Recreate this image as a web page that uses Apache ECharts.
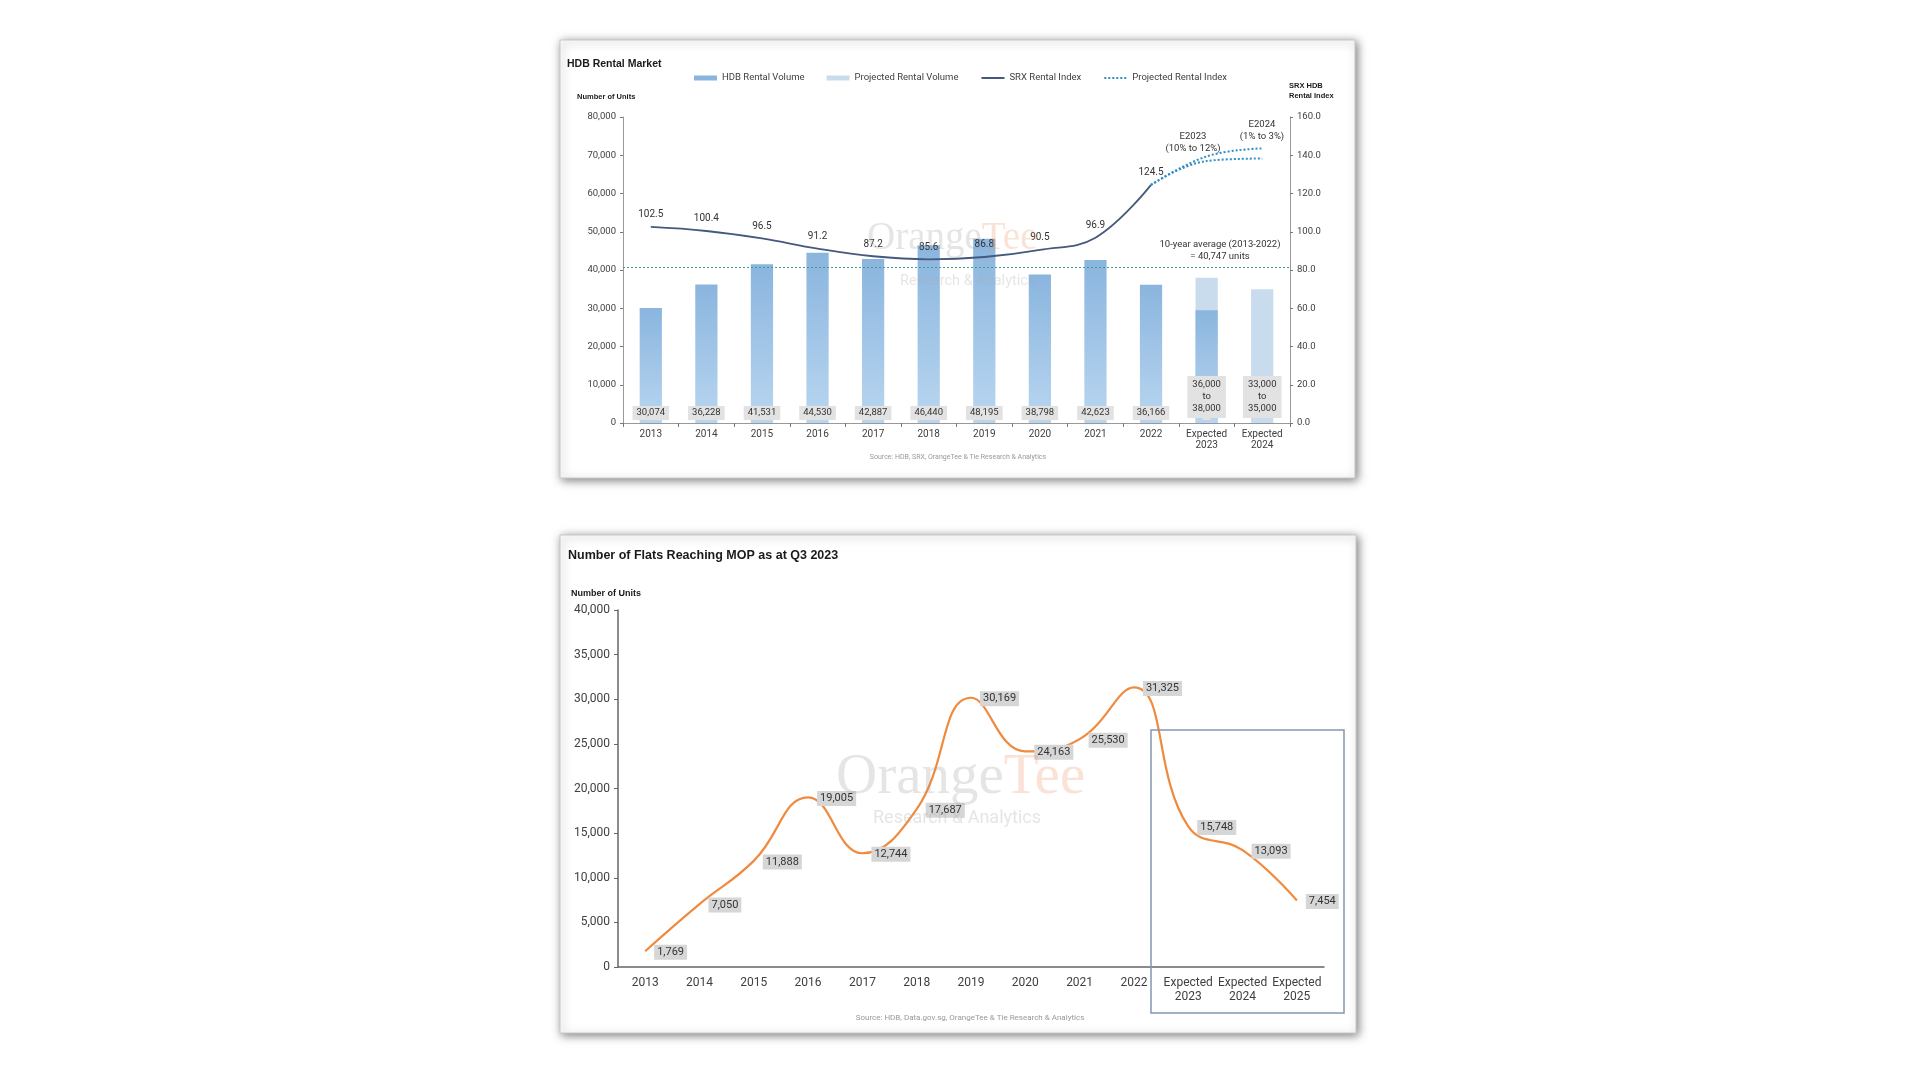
<!DOCTYPE html>
<html>
<head>
<meta charset="utf-8">
<script src="https://cdn.jsdelivr.net/npm/echarts@6/dist/echarts.min.js"></script>
<style>
html,body{margin:0;padding:0;background:#fff;}
#c{width:1920px;height:1080px;}
</style>
</head>
<body>
<div id="c"></div>
<script>
// ---------- Chart 1: HDB Rental Market ----------
var rentalCategories = ['2013','2014','2015','2016','2017','2018','2019','2020','2021','2022','Expected\n2023','Expected\n2024'];
var rentalVolume = [30074, 36228, 41531, 44530, 42887, 46440, 48195, 38798, 42623, 36166, 29500, null];
var projectedVolume = [null, null, null, null, null, null, null, null, null, null, 38000, 35000];
var projectedVolumeLabels = ['', '', '', '', '', '', '', '', '', '', '36,000\nto\n38,000', '33,000\nto\n35,000'];
var srxIndex = [102.5, 100.4, 96.5, 91.2, 87.2, 85.6, 86.8, 90.5, 96.9, 124.5, null, null];
var projIndexHigh = [null, null, null, null, null, null, null, null, null, 124.5, 139.4, 143.6];
var projIndexLow = [null, null, null, null, null, null, null, null, null, 124.5, 137.0, 138.3];
var avgVolume = 40747;
var volumeTicks = [0, 80000, 10000];
var indexTicks = [0, 160, 20];

// ---------- Chart 2: Flats reaching MOP ----------
var mopCategories = ['2013','2014','2015','2016','2017','2018','2019','2020','2021','2022','Expected\n2023','Expected\n2024','Expected\n2025'];
var mopUnits = [1769, 7050, 11888, 19005, 12744, 17687, 30169, 24163, 25530, 31325, 15748, 13093, 7454];
var mopTicks = [0, 40000, 5000];

var FONT = 'Roboto';
var fmt = function (v) { return Number(v).toLocaleString('en-US'); };

var chart = echarts.init(document.getElementById('c'), null, {renderer: 'canvas'});

var barGradient = new echarts.graphic.LinearGradient(0, 0, 0, 1, [
  {offset: 0, color: '#8ab5de'},
  {offset: 1, color: '#b9d6f0'}
]);

function panel(x, y, w, h) {
  return {type: 'rect', z: 0, shape: {x: x, y: y, width: w, height: h},
    style: {fill: '#fff', stroke: '#c8c8c8', lineWidth: 1, shadowBlur: 9, shadowColor: 'rgba(0,0,0,0.5)', shadowOffsetX: 2, shadowOffsetY: 2}};
}
function txt(x, y, text, opts) {
  var s = Object.assign({text: text, x: x, y: y, fill: '#262626', fontFamily: FONT, fontSize: 10, textAlign: 'left', textVerticalAlign: 'middle'}, opts || {});
  return {type: 'text', z: 50, style: s};
}
var noDot = {color: 'rgba(0,0,0,0)', borderColor: 'rgba(0,0,0,0)', borderWidth: 0};

var option = {
  backgroundColor: '#ffffff',
  animation: false,
  textStyle: {fontFamily: FONT},
  legend: {
    show: true,
    top: 68,
    left: 689,
    itemWidth: 23,
    itemHeight: 5,
    itemGap: 22,
    textStyle: {fontSize: 9.5, color: '#404040', fontFamily: FONT},
    data: [
      {name: 'HDB Rental Volume', icon: 'rect', itemStyle: {color: '#8ab5de'}},
      {name: 'Projected Rental Volume', icon: 'rect', itemStyle: {color: '#c8dcee'}},
      {name: 'SRX Rental Index', itemStyle: noDot},
      {name: 'Projected Rental Index', itemStyle: noDot}
    ]
  },
  grid: [
    {left: 623, right: 630, top: 117, bottom: 657},
    {left: 618, right: 596, top: 610, bottom: 113}
  ],
  xAxis: [
    {type: 'category', gridIndex: 0, data: rentalCategories, boundaryGap: true,
      axisLine: {lineStyle: {color: '#999', width: 1}},
      axisTick: {show: true, alignWithLabel: false, length: 4, lineStyle: {color: '#777'}},
      axisLabel: {fontSize: 10, color: '#404040', margin: 6, lineHeight: 11, interval: 0}},
    {type: 'category', gridIndex: 1, data: mopCategories, boundaryGap: true,
      axisLine: {lineStyle: {color: '#666', width: 1.5}},
      axisTick: {show: false},
      axisLabel: {fontSize: 12, color: '#404040', margin: 9, lineHeight: 14, interval: 0}}
  ],
  yAxis: [
    {type: 'value', gridIndex: 0, min: volumeTicks[0], max: volumeTicks[1], interval: volumeTicks[2],
      splitLine: {show: false},
      axisLine: {show: true, lineStyle: {color: '#999'}},
      axisTick: {show: true, length: 3, lineStyle: {color: '#777'}},
      axisLabel: {fontSize: 9.5, color: '#404040', margin: 7, formatter: fmt}},
    {type: 'value', gridIndex: 0, position: 'right', min: indexTicks[0], max: indexTicks[1], interval: indexTicks[2],
      splitLine: {show: false},
      axisLine: {show: true, lineStyle: {color: '#999'}},
      axisTick: {show: true, length: 3, lineStyle: {color: '#777'}},
      axisLabel: {fontSize: 9.5, color: '#404040', margin: 7, formatter: function (v) { return v.toFixed(1); }}},
    {type: 'value', gridIndex: 1, min: mopTicks[0], max: mopTicks[1], interval: mopTicks[2],
      splitLine: {show: false},
      axisLine: {show: true, lineStyle: {color: '#666', width: 1.5}},
      axisTick: {show: true, length: 4, lineStyle: {color: '#666'}},
      axisLabel: {fontSize: 12, color: '#404040', margin: 8, formatter: fmt}}
  ],
  series: [
    {
      name: 'Projected Rental Volume', type: 'bar', xAxisIndex: 0, yAxisIndex: 0,
      data: projectedVolume, barWidth: '40%', barGap: '-100%',
      itemStyle: {color: '#c8dcee'},
      label: {show: true, position: 'insideBottom', distance: 5,
        formatter: function (p) { return projectedVolumeLabels[p.dataIndex]; },
        backgroundColor: '#e2e2e2', padding: [3, 5], fontSize: 9.5, lineHeight: 12, color: '#333'}
    },
    {
      name: 'HDB Rental Volume', type: 'bar', xAxisIndex: 0, yAxisIndex: 0,
      data: rentalVolume, barWidth: '40%', barGap: '-100%',
      itemStyle: {color: barGradient},
      label: {show: true, position: 'insideBottom', distance: 3,
        formatter: function (p) { return p.dataIndex < 10 ? fmt(p.value) : ''; },
        backgroundColor: '#e2e2e2', padding: [2, 4], fontSize: 9.5, color: '#333'},
      markLine: {
        silent: true, symbol: 'none',
        lineStyle: {color: '#3f9e8f', type: [2, 2], width: 1},
        label: {show: false},
        data: [{yAxis: avgVolume}]
      }
    },
    {
      name: 'SRX Rental Index', type: 'line', xAxisIndex: 0, yAxisIndex: 1,
      data: srxIndex, smooth: 0.4, symbol: 'circle', symbolSize: 0, showSymbol: true, z: 5,
      lineStyle: {color: '#44597d', width: 1.8},
      itemStyle: {color: '#44597d'},
      label: {show: true, position: 'top', distance: 7, fontSize: 10, color: '#333',
        formatter: function (p) { return p.value.toFixed(1); }}
    },
    {
      name: 'Projected Rental Index', type: 'line', xAxisIndex: 0, yAxisIndex: 1,
      data: projIndexHigh, smooth: 0.4, symbol: 'none', z: 5,
      lineStyle: {color: '#2f8fc4', width: 2, type: [2, 2]},
      itemStyle: {color: '#2f8fc4'}
    },
    {
      name: 'Projected Rental Index', type: 'line', xAxisIndex: 0, yAxisIndex: 1,
      data: projIndexLow, smooth: 0.4, symbol: 'none', z: 5,
      lineStyle: {color: '#2f8fc4', width: 2, type: [2, 2]},
      itemStyle: {color: '#2f8fc4'}
    },
    {
      name: 'Flats Reaching MOP', type: 'line', xAxisIndex: 1, yAxisIndex: 2,
      data: mopUnits, smooth: 0.45, symbol: 'circle', symbolSize: 0, showSymbol: true, z: 5,
      lineStyle: {color: '#f08a3e', width: 2.2},
      itemStyle: {color: '#f08a3e'},
      label: {show: true, position: 'right', distance: 9, offset: [0, 1], fontSize: 11, color: '#333',
        backgroundColor: '#d6d6d6', padding: [2, 3], formatter: function (p) { return fmt(p.value); }}
    }
  ],
  graphic: [
    panel(560, 40, 795, 438),
    panel(560, 535, 796, 498),
    // top chart texts
    txt(567, 64, 'HDB Rental Market', {fontSize: 10.5, fontWeight: 'bold', fontFamily: 'Liberation Sans', fill: '#1a1a1a'}),
    txt(577, 97, 'Number of Units', {fontSize: 7.5, fontWeight: 'bold', fontFamily: 'Liberation Sans', fill: '#1a1a1a'}),
    txt(1289, 86, 'SRX HDB', {fontSize: 7.5, fontWeight: 'bold', fontFamily: 'Liberation Sans', fill: '#1a1a1a'}),
    txt(1289, 96, 'Rental Index', {fontSize: 7.5, fontWeight: 'bold', fontFamily: 'Liberation Sans', fill: '#1a1a1a'}),
    txt(1193, 137, 'E2023', {fontSize: 9.5, textAlign: 'center', fill: '#333'}),
    txt(1193, 149, '(10% to 12%)', {fontSize: 9.5, textAlign: 'center', fill: '#333'}),
    txt(1262, 125, 'E2024', {fontSize: 9.5, textAlign: 'center', fill: '#333'}),
    txt(1262, 137, '(1% to 3%)', {fontSize: 9.5, textAlign: 'center', fill: '#333'}),
    txt(1220, 245, '10-year average (2013-2022)', {fontSize: 9.5, textAlign: 'center', fill: '#333'}),
    txt(1220, 257, '= 40,747 units', {fontSize: 9.5, textAlign: 'center', fill: '#333'}),
    txt(958, 457, 'Source: HDB, SRX, OrangeTee & Tie Research & Analytics', {fontSize: 7, textAlign: 'center', fill: '#999'}),
    // watermark top
    {type: 'text', z: 40, style: {x: 867, y: 239, textVerticalAlign: 'middle', fontSize: 39, fontFamily: 'Liberation Serif',
      rich: {a: {fill: 'rgba(150,150,150,0.25)', fontSize: 39, fontFamily: 'Liberation Serif'}, b: {fill: 'rgba(240,140,90,0.25)', fontSize: 39, fontFamily: 'Liberation Serif'}},
      text: '{a|Orange}{b|Tee}'}},
    txt(900, 281, 'Research & Analytics', {fontSize: 14.5, fill: 'rgba(170,170,170,0.3)'}),
    // bottom chart texts
    txt(568, 556, 'Number of Flats Reaching MOP as at Q3 2023', {fontSize: 12.5, fontWeight: 'bold', fontFamily: 'Liberation Sans', fill: '#1a1a1a'}),
    txt(571, 594, 'Number of Units', {fontSize: 9, fontWeight: 'bold', fontFamily: 'Liberation Sans', fill: '#1a1a1a'}),
    txt(970, 1018, 'Source: HDB, Data.gov.sg, OrangeTee & Tie Research & Analytics', {fontSize: 8, textAlign: 'center', fill: '#999'}),
    {type: 'text', z: 40, style: {x: 836, y: 778, textVerticalAlign: 'middle', fontSize: 57, fontFamily: 'Liberation Serif',
      rich: {a: {fill: 'rgba(150,150,150,0.25)', fontSize: 57, fontFamily: 'Liberation Serif'}, b: {fill: 'rgba(240,140,90,0.25)', fontSize: 57, fontFamily: 'Liberation Serif'}},
      text: '{a|Orange}{b|Tee}'}},
    txt(873, 818, 'Research & Analytics', {fontSize: 18, fill: 'rgba(170,170,170,0.3)'}),
    {type: 'rect', z: 45, shape: {x: 1151, y: 730, width: 193, height: 283},
      style: {fill: 'none', stroke: '#8497b0', lineWidth: 1.5}}
  ]
};
chart.setOption(option);
</script>
</body>
</html>
